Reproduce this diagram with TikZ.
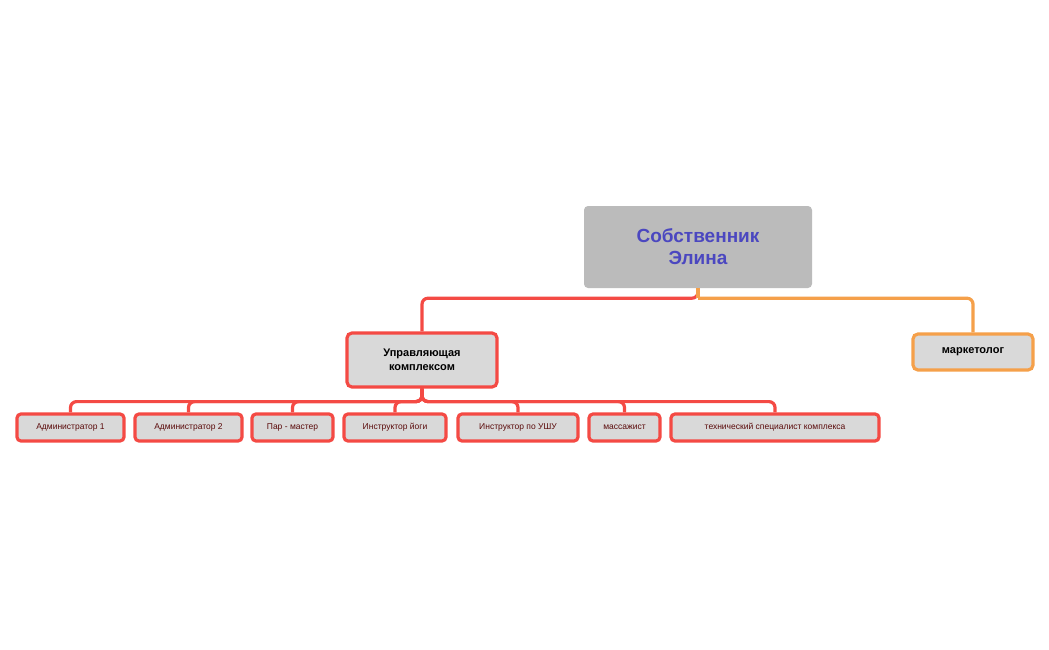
\documentclass[tikz,border=0pt]{standalone}
\usepackage{fontspec}
\setmainfont{Liberation Sans}
\definecolor{rred}{HTML}{F44A44}
\definecolor{oor}{HTML}{F5A04A}
\definecolor{gfill}{HTML}{D9D9D9}
\definecolor{rootg}{HTML}{BBBBBB}
\definecolor{rootb}{HTML}{4B47C0}
\definecolor{dred}{HTML}{5A0A0A}
\begin{document}
\begin{tikzpicture}[x=1pt,y=-1pt,
  rootbox/.style={fill=rootg,rounded corners=4pt,minimum width=228pt,minimum height=82pt,align=center,text=rootb,font=\fontsize{19}{22}\selectfont\bfseries},
  midbox/.style={fill=gfill,draw=rred,line width=3.2pt,rounded corners=5pt,align=center,font=\fontsize{11}{14}\selectfont\bfseries},
  leaf/.style={fill=gfill,draw=rred,line width=3.2pt,rounded corners=4pt,minimum height=27pt,inner sep=0pt,text=dred,font=\fontsize{8.5}{10}\selectfont},
  rline/.style={draw=rred,line width=3.2pt,rounded corners=6pt},
  oline/.style={draw=oor,line width=3.2pt,rounded corners=6pt}]
\useasboundingbox (0,0) rectangle (1049,650);
\node[rootbox] (root) at (698,247) {Собственник\\Элина};
\node[midbox,minimum width=150pt,minimum height=54pt] (mgr) at (422,360) {Управляющая\\комплексом};
\node[midbox,draw=oor,minimum width=120pt,minimum height=36pt] (mkt) at (973,352) {маркетолог};
\node[leaf,minimum width=107pt] (a1) at (70.5,427.5) {Администратор 1};
\node[leaf,minimum width=107pt] (a2) at (188.5,427.5) {Администратор 2};
\node[leaf,minimum width=81pt] (par) at (292.5,427.5) {Пар - мастер};
\node[leaf,minimum width=102pt] (yoga) at (395,427.5) {Инструктор йоги};
\node[leaf,minimum width=120pt] (ushu) at (518,427.5) {Инструктор по УШУ};
\node[leaf,minimum width=71pt] (mass) at (624.5,427.5) {массажист};
\node[leaf,minimum width=208pt] (tech) at (775,427.5) {технический специалист комплекса};
\draw[rline] (root.south) -- ++(0,10) -| (mgr.north);
\draw[oline] (root.south) ++(0,10) -| (mkt.north);
\draw[oor,line width=3.2pt] (root.south) -- ++(0,10);
\foreach \n in {a1,a2,par,yoga,ushu,mass,tech}{
  \draw[rline] (mgr.south) -- ++(0,13) -| (\n.north);
}
\end{tikzpicture}
\end{document}
